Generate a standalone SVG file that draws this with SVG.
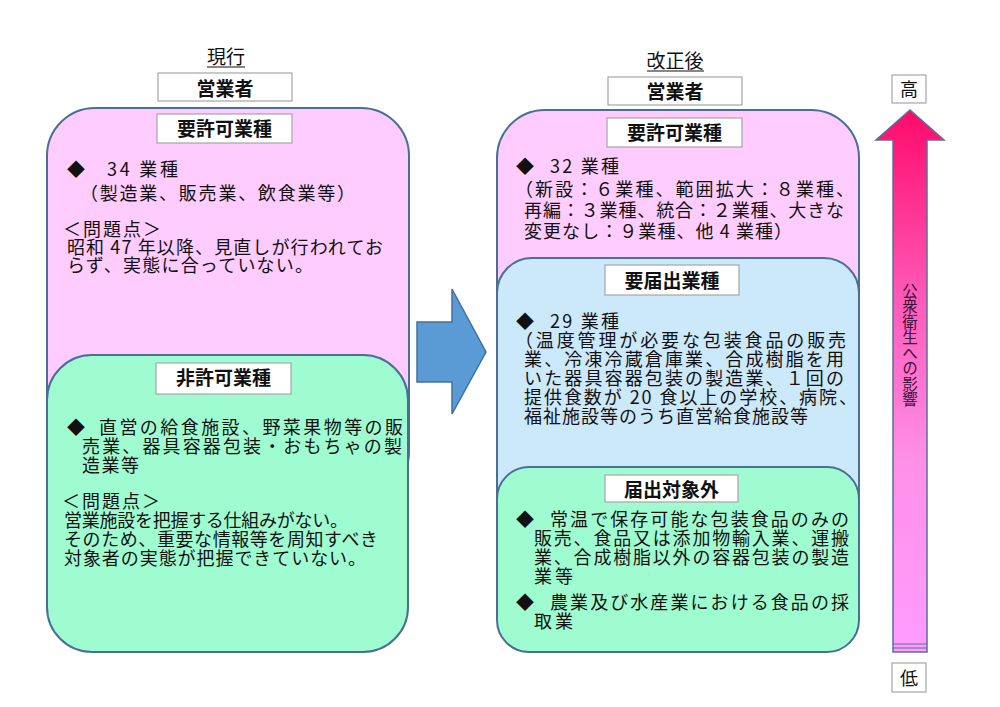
<svg xmlns="http://www.w3.org/2000/svg" width="1000" height="707" viewBox="0 0 1000 707">
<style>
text{font-family:"Noto Sans CJK JP","Noto Sans CJK SC",sans-serif;fill:#111;}
.t{font-size:18px;}
.lbl{font-size:19px;font-weight:bold;text-anchor:middle;}
.title{font-size:19px;text-anchor:middle;}
.lb{fill:#fff;stroke:#a6a6a6;stroke-width:1.2;}
.rb{stroke:#4a6f96;stroke-width:2;}
.pink{fill:#ffccff;}
.blue{fill:#cce8fb;}
.green{fill:#9ffcd1;}
.ul{stroke:#111;stroke-width:1.2;}
</style>
<defs>
<linearGradient id="vg" x1="0" y1="0" x2="0" y2="1">
<stop offset="0" stop-color="#ff0a6a"/>
<stop offset="0.35" stop-color="#ff5ab9"/>
<stop offset="0.65" stop-color="#ff90e8"/>
<stop offset="1" stop-color="#ff9cff"/>
</linearGradient>
</defs>
<rect width="1000" height="707" fill="#fff"/>

<g id="left-title">
<text class="title" x="226" y="64">現行</text>
<line class="ul" x1="207" y1="67" x2="245" y2="67"/>
</g>
<g id="left-operator">
<rect class="lb" x="158" y="73" width="134" height="28"/>
<text class="lbl" x="225" y="96">営業者</text>
</g>

<g id="left-permit">
<rect class="rb pink" x="47" y="108" width="362" height="392" rx="48"/>
<rect class="lb" x="157" y="114" width="135" height="29"/>
<text class="lbl" x="224.5" y="136">要許可業種</text>
<text class="t" x="67" y="176">◆</text>
<text class="t" x="107" y="176" textLength="71" lengthAdjust="spacing">34 業種</text>
<text class="t" x="80" y="200" textLength="275" lengthAdjust="spacing">（製造業、販売業、飲食業等）</text>
<text class="t" x="63" y="236" textLength="98" lengthAdjust="spacing">＜問題点＞</text>
<text class="t" x="67" y="254" textLength="316" lengthAdjust="spacing">昭和 47 年以降、見直しが行われてお</text>
<text class="t" x="67" y="272" textLength="246" lengthAdjust="spacing">らず、実態に合っていない。</text>
</g>

<g id="left-nonpermit">
<rect class="rb green" x="47" y="355" width="361" height="297" rx="45"/>
<rect class="lb" x="156" y="363" width="135" height="31"/>
<text class="lbl" x="223.5" y="385">非許可業種</text>
<text class="t" x="67" y="434">◆</text>
<text class="t" x="99" y="434" textLength="304" lengthAdjust="spacing">直営の給食施設、野菜果物等の販</text>
<text class="t" x="82" y="453" textLength="320" lengthAdjust="spacing">売業、器具容器包装・おもちゃの製</text>
<text class="t" x="82" y="472" textLength="57" lengthAdjust="spacing">造業等</text>
<text class="t" x="62" y="508" textLength="98" lengthAdjust="spacing">＜問題点＞</text>
<text class="t" x="64" y="527" textLength="284" lengthAdjust="spacing">営業施設を把握する仕組みがない。</text>
<text class="t" x="64" y="546" textLength="314" lengthAdjust="spacing">そのため、重要な情報等を周知すべき</text>
<text class="t" x="64" y="565" textLength="302" lengthAdjust="spacing">対象者の実態が把握できていない。</text>
</g>

<g id="connectors">
<path d="M417,322 L452,322 L452,289 L486,352 L452,414 L452,382 L417,382 Z" fill="#5b9bd5" stroke="#41719c" stroke-width="1.5"/>
</g>

<g id="right-title">
<text class="title" x="675" y="68">改正後</text>
<line class="ul" x1="647" y1="71" x2="704" y2="71"/>
</g>
<g id="right-operator">
<rect class="lb" x="608" y="77" width="134" height="28"/>
<text class="lbl" x="675" y="99">営業者</text>
</g>

<g id="right-permit">
<rect class="rb pink" x="497" y="110" width="362" height="350" rx="48"/>
<rect class="lb" x="607" y="118" width="135" height="29"/>
<text class="lbl" x="674.5" y="140">要許可業種</text>
<text class="t" x="516" y="173">◆</text>
<text class="t" x="550" y="173" textLength="69" lengthAdjust="spacing">32 業種</text>
<text class="t" x="515" y="196" textLength="339" lengthAdjust="spacing">（新設：６業種、範囲拡大：８業種、</text>
<text class="t" x="524" y="217" textLength="320" lengthAdjust="spacing">再編：３業種、統合：２業種、大きな</text>
<text class="t" x="524" y="238" textLength="268" lengthAdjust="spacing">変更なし：９業種、他 4 業種）</text>
</g>

<g id="right-notify">
<rect class="rb blue" x="497" y="258" width="362" height="300" rx="35"/>
<rect class="lb" x="605" y="265" width="134" height="30"/>
<text class="lbl" x="672" y="288">要届出業種</text>
<text class="t" x="516" y="328">◆</text>
<text class="t" x="550" y="328" textLength="69" lengthAdjust="spacing">29 業種</text>
<text class="t" x="515" y="347" textLength="331" lengthAdjust="spacing">（温度管理が必要な包装食品の販売</text>
<text class="t" x="524" y="366" textLength="320" lengthAdjust="spacing">業、冷凍冷蔵倉庫業、合成樹脂を用</text>
<text class="t" x="524" y="385" textLength="320" lengthAdjust="spacing">いた器具容器包装の製造業、１回の</text>
<text class="t" x="524" y="404" textLength="333" lengthAdjust="spacing">提供食数が 20 食以上の学校、病院、</text>
<text class="t" x="524" y="423" textLength="284" lengthAdjust="spacing">福祉施設等のうち直営給食施設等</text>
</g>

<g id="right-exempt">
<rect class="rb green" x="497" y="467" width="362" height="185" rx="32"/>
<rect class="lb" x="605" y="475" width="133" height="27"/>
<text class="lbl" x="671.5" y="497">届出対象外</text>
<text class="t" x="516" y="526">◆</text>
<text class="t" x="550" y="526" textLength="299" lengthAdjust="spacing">常温で保存可能な包装食品のみの</text>
<text class="t" x="534" y="545" textLength="315" lengthAdjust="spacing">販売、食品又は添加物輸入業、運搬</text>
<text class="t" x="534" y="564" textLength="315" lengthAdjust="spacing">業、合成樹脂以外の容器包装の製造</text>
<text class="t" x="534" y="583" textLength="39" lengthAdjust="spacing">業等</text>
<text class="t" x="516" y="609">◆</text>
<text class="t" x="550" y="609" textLength="299" lengthAdjust="spacing">農業及び水産業における食品の採</text>
<text class="t" x="534" y="628" textLength="39" lengthAdjust="spacing">取業</text>
</g>

<g id="impact-scale">
<rect class="lb" x="892" y="75" width="34" height="28"/>
<text class="lbl" x="909" y="96" style="font-weight:normal;font-size:18px">高</text>
<path d="M893,652 L893,140 L876,140 L910,110 L944,140 L927,140 L927,652 Z" fill="url(#vg)" stroke="#5a6f9a" stroke-width="1.5"/>
<line x1="893" y1="644" x2="927" y2="644" stroke="#5a6f9a" stroke-width="1.2"/>
<line x1="893" y1="648" x2="927" y2="648" stroke="#5a6f9a" stroke-width="1.2"/>
<text x="910" y="283" writing-mode="tb" style="font-size:15.5px;fill:#3a1238">公衆衛生への影響</text>
<rect class="lb" x="892" y="663" width="34" height="29"/>
<text class="lbl" x="909" y="685" style="font-weight:normal;font-size:18px">低</text>
</g>
</svg>
